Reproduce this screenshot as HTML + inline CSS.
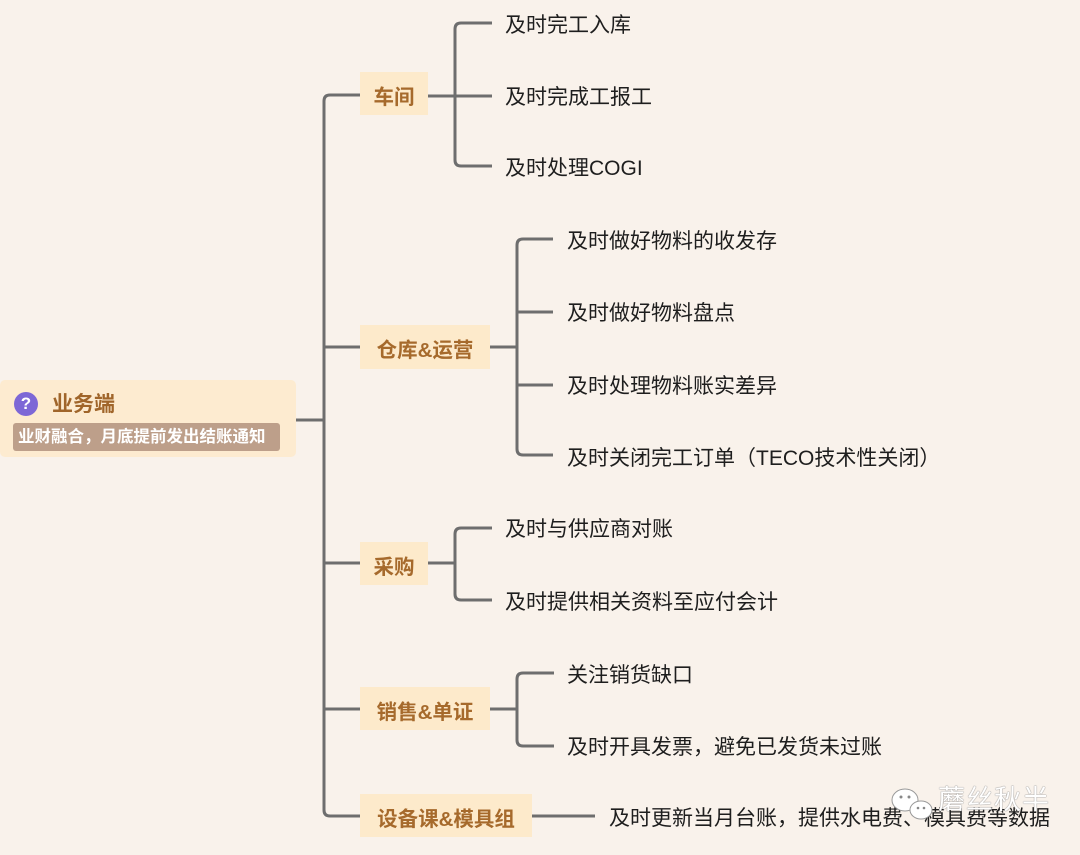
<!DOCTYPE html>
<html>
<head>
<meta charset="utf-8">
<style>
  html,body{margin:0;padding:0;}
  body{width:1080px;height:855px;background:#f9f2eb;position:relative;overflow:hidden;
    font-family:"Liberation Sans","Noto Sans CJK SC","WenQuanYi Zen Hei",sans-serif;}
  svg{position:absolute;left:0;top:0;}
  .t{position:absolute;font-size:21px;line-height:28px;height:28px;color:#1e1e1e;white-space:nowrap;}
  .b{position:absolute;background:#fdeacb;color:#a66a2c;font-weight:bold;font-size:20.5px;
     display:flex;align-items:center;justify-content:center;white-space:nowrap;padding-top:2px;box-sizing:border-box;}
  .root{position:absolute;left:0;top:380px;width:296px;height:77px;background:#fdebd0;border-radius:5px;}
  .q{position:absolute;left:14px;top:392px;width:24px;height:24px;border-radius:50%;background:#7d67d6;
     color:#fff;font-weight:bold;font-size:17px;line-height:24px;text-align:center;}
  .rt{position:absolute;left:52px;top:391px;font-size:21px;font-weight:bold;color:#a0652a;line-height:28px;}
  .sub{position:absolute;left:13px;top:423px;width:267px;height:28px;background:#bd9f8a;border-radius:3px;
     color:#fff;font-weight:bold;font-size:16.5px;line-height:29px;padding-left:5px;box-sizing:border-box;white-space:nowrap;}
  .wm{position:absolute;left:938px;top:784px;font-size:27px;color:#fff;line-height:32px;
     text-shadow:0 0 1px #888, 0 0 1px #888;white-space:nowrap;letter-spacing:1px;}
</style>
</head>
<body>
<svg width="1080" height="855" viewBox="0 0 1080 855">
  <g fill="none" stroke="#6e6e6e" stroke-width="3" stroke-linecap="butt">
    <path d="M360 95 H330 Q324 95 324 101 V810 Q324 816 330 816 H360"/>
    <path d="M296 420 H324"/>
    <path d="M324 347 H360"/>
    <path d="M324 563 H360"/>
    <path d="M324 709 H360"/>
    <path d="M428 96 H455"/>
    <path d="M492 23 H461 Q455 23 455 29 V160 Q455 166 461 166 H492"/>
    <path d="M455 96 H492"/>
    <path d="M490 347 H517"/>
    <path d="M553 239 H523 Q517 239 517 245 V449 Q517 455 523 455 H553"/>
    <path d="M517 312 H553"/>
    <path d="M517 385 H553"/>
    <path d="M428 563 H455"/>
    <path d="M492 528 H461 Q455 528 455 534 V594 Q455 600 461 600 H492"/>
    <path d="M490 709 H517"/>
    <path d="M554 673 H523 Q517 673 517 679 V740 Q517 746 523 746 H554"/>
    <path d="M532 816 H595"/>
  </g>
</svg>

<div class="root"></div>
<div class="q">?</div>
<div class="rt">业务端</div>
<div class="sub">业财融合，月底提前发出结账通知</div>

<div class="b" style="left:360px;top:72px;width:68px;height:43px;">车间</div>
<div class="b" style="left:360px;top:325px;width:130px;height:44px;">仓库&amp;运营</div>
<div class="b" style="left:360px;top:542px;width:68px;height:43px;">采购</div>
<div class="b" style="left:360px;top:687px;width:130px;height:43px;">销售&amp;单证</div>
<div class="b" style="left:360px;top:794px;width:172px;height:43px;">设备课&amp;模具组</div>

<div class="t" style="left:505px;top:12px;">及时完工入库</div>
<div class="t" style="left:505px;top:84px;">及时完成工报工</div>
<div class="t" style="left:505px;top:155px;">及时处理COGI</div>

<div class="t" style="left:567px;top:228px;">及时做好物料的收发存</div>
<div class="t" style="left:567px;top:300px;">及时做好物料盘点</div>
<div class="t" style="left:567px;top:373px;">及时处理物料账实差异</div>
<div class="t" style="left:567px;top:445px;">及时关闭完工订单（TECO技术性关闭）</div>

<div class="t" style="left:505px;top:516px;">及时与供应商对账</div>
<div class="t" style="left:505px;top:589px;">及时提供相关资料至应付会计</div>

<div class="t" style="left:567px;top:662px;">关注销货缺口</div>
<div class="t" style="left:567px;top:734px;">及时开具发票，避免已发货未过账</div>

<div class="t" style="left:609px;top:805px;">及时更新当月台账，提供水电费、模具费等数据</div>

<svg width="1080" height="855" viewBox="0 0 1080 855">
  <g fill="#fff" stroke="#999" stroke-width="1">
    <ellipse cx="905" cy="800" rx="13" ry="11"/>
    <ellipse cx="921" cy="810" rx="11" ry="9"/>
  </g>
  <g fill="#888">
    <circle cx="901" cy="797" r="1.5"/><circle cx="909" cy="797" r="1.5"/>
    <circle cx="918" cy="808" r="1.3"/><circle cx="924" cy="808" r="1.3"/>
  </g>
</svg>
<div class="wm">蘑丝秋半</div>
</body>
</html>
